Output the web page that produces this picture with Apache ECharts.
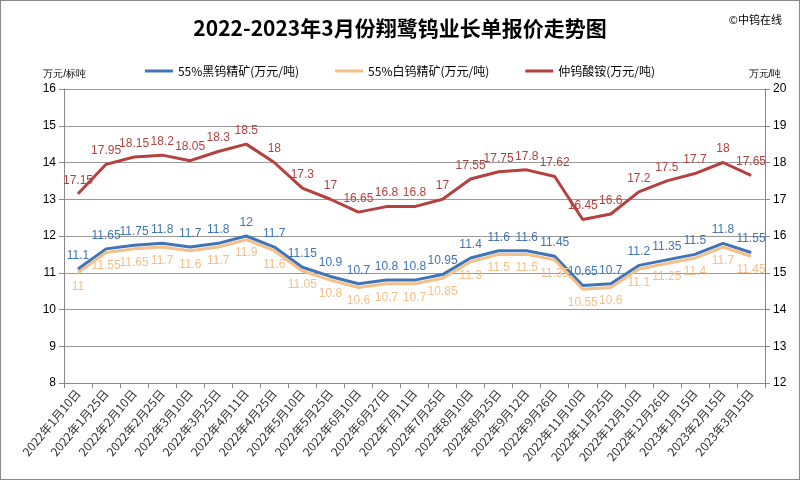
<!DOCTYPE html>
<html><head><meta charset="utf-8">
<script src="https://cdn.jsdelivr.net/npm/echarts@6/dist/echarts.min.js"></script>
<style>html,body{margin:0;padding:0;background:#fff}#c{width:798px;height:478px;border:1px solid #888}</style>
</head><body><div id="c"></div>
<script>
const categories=['2022年1月10日','2022年1月25日','2022年2月10日','2022年2月25日','2022年3月10日','2022年3月25日','2022年4月11日','2022年4月25日','2022年5月10日','2022年5月25日','2022年6月10日','2022年6月27日','2022年7月11日','2022年7月25日','2022年8月10日','2022年8月25日','2022年9月12日','2022年9月26日','2022年11月10日','2022年11月25日','2022年12月10日','2022年12月26日','2023年1月15日','2023年2月15日','2023年3月15日'];
const blackW=[11.1,11.65,11.75,11.8,11.7,11.8,12,11.7,11.15,10.9,10.7,10.8,10.8,10.95,11.4,11.6,11.6,11.45,10.65,10.7,11.2,11.35,11.5,11.8,11.55];
const whiteW=[11,11.55,11.65,11.7,11.6,11.7,11.9,11.6,11.05,10.8,10.6,10.7,10.7,10.85,11.3,11.5,11.5,11.35,10.55,10.6,11.1,11.25,11.4,11.7,11.45];
const apt=[17.15,17.95,18.15,18.2,18.05,18.3,18.5,18,17.3,17,16.65,16.8,16.8,17,17.55,17.75,17.8,17.62,16.45,16.6,17.2,17.5,17.7,18,17.65];
const ch=echarts.init(document.getElementById('c'));
const ff='"Microsoft YaHei","Noto Sans CJK SC",sans-serif';
function s(name,data,color,pos,axis){return {name,type:'line',data,yAxisIndex:axis,symbol:'circle',symbolSize:1,showSymbol:true,smooth:false,
 lineStyle:{color,width:3},itemStyle:{color},labelLayout:{hideOverlap:false},
 label:{show:true,position:pos,color,fontSize:12,fontFamily:'Arial,sans-serif',distance:7}};}
ch.setOption({
 animation:false,
 title:[{text:'2022-2023年3月份翔鹭钨业长单报价走势图',left:'center',top:12,textStyle:{fontSize:21,fontWeight:'bold',color:'#000',fontFamily:ff}},
  {text:'©中钨在线',right:12,top:8,textStyle:{fontSize:11,fontWeight:'normal',color:'#000',fontFamily:ff}}],
 legend:{top:59,left:'center',itemWidth:28,itemHeight:3,itemGap:36,icon:'rect',textStyle:{fontSize:12,color:'#000',fontFamily:ff},
  data:['55%黑钨精矿(万元/吨)','55%白钨精矿(万元/吨)','仲钨酸铵(万元/吨)']},
 grid:{left:63,right:34,top:88,bottom:96},
 xAxis:{type:'category',data:categories,boundaryGap:true,
  axisLine:{lineStyle:{color:'#888'}},axisTick:{show:true,lineStyle:{color:'#888'}},
  axisLabel:{rotate:50,fontSize:12,color:'#333',interval:0,fontFamily:ff}},
 yAxis:[{type:'value',min:8,max:16,interval:1,name:'万元/标吨',nameLocation:'end',nameGap:10,
   nameTextStyle:{fontSize:10,color:'#000',align:'right',padding:[0,-22,0,0]},
   axisLine:{show:true,lineStyle:{color:'#888'}},axisTick:{show:true},axisLabel:{color:'#000',fontSize:12},
   splitLine:{lineStyle:{color:'#999'}}},
  {type:'value',min:12,max:20,interval:1,name:'万元/吨',nameGap:10,
   nameTextStyle:{fontSize:10,color:'#000'},
   axisLine:{show:true,lineStyle:{color:'#888'}},axisTick:{show:true},axisLabel:{color:'#000',fontSize:12},splitLine:{show:false}}],
 series:[s('55%黑钨精矿(万元/吨)',blackW,'#3f74b6','top',0),
  s('55%白钨精矿(万元/吨)',whiteW,'#f5bf8a','bottom',0),
  s('仲钨酸铵(万元/吨)',apt,'#b5413f','top',1)]
});
</script></body></html>
